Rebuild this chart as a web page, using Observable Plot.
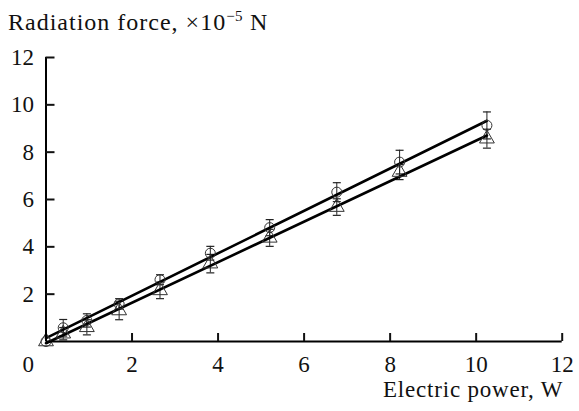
<!DOCTYPE html>
<html><head><meta charset="utf-8">
<script src="https://cdn.jsdelivr.net/npm/d3@7"></script>
<script src="https://cdn.jsdelivr.net/npm/@observablehq/plot@0.6"></script>
<style>
body{margin:0;background:#fff;font-family:'Liberation Serif','Tinos','Times','Nimbus Roman','DejaVu Serif','Noto Serif',serif;color:#111;}
#title{font-size:24px;letter-spacing:1px;height:36px;box-sizing:border-box;padding-top:9px;padding-left:8px;line-height:26px;white-space:nowrap;}
#title sup{font-size:15px;line-height:0;vertical-align:9px;letter-spacing:0.5px;}
svg{display:block;}
</style></head><body>
<div id="title">Radiation force, ×10<sup>−5</sup> N</div>
<div id="chart"></div>
<script>
// Data
const power = [0, 0.4, 0.95, 1.7, 2.65, 3.82, 5.2, 6.76, 8.22, 10.25];
const forceCircle = [0, 0.58, 0.89, 1.59, 2.61, 3.73, 4.81, 6.31, 7.58, 9.13];
const errCircle = [0, 0.35, 0.28, 0.22, 0.21, 0.29, 0.34, 0.4, 0.5, 0.57];
const forceTriangle = [0, 0.33, 0.6, 1.31, 2.16, 3.29, 4.38, 5.68, 7.16, 8.57];
const errTriangle = [0, 0.26, 0.32, 0.39, 0.35, 0.39, 0.36, 0.35, 0.32, 0.4];
const xTicks = [0, 2, 4, 6, 8, 10, 12];
const yTicks = [2, 4, 6, 8, 10, 12];
const xLabel = "Electric power, W";

const circles = power.map((p, i) => ({power: p, force: forceCircle[i], err: errCircle[i]}));
const triangles = power.map((p, i) => ({power: p, force: forceTriangle[i], err: errTriangle[i]}));

const capSymbol = {
  draw(context, size) {
    const w = Math.sqrt(size / Math.PI);
    context.moveTo(-w, 0);
    context.lineTo(w, 0);
  }
};

const errMarks = (data) => [
  Plot.ruleX(data.filter(d => d.err > 0), {x: "power", y1: d => d.force - d.err, y2: d => d.force + d.err, stroke: "#222", strokeWidth: 1}),
  Plot.dot(data.filter(d => d.err > 0), {x: "power", y: d => d.force + d.err, symbol: capSymbol, r: 4, stroke: "#222", strokeWidth: 1.2, fill: "none"}),
  Plot.dot(data.filter(d => d.err > 0), {x: "power", y: d => d.force - d.err, symbol: capSymbol, r: 4, stroke: "#222", strokeWidth: 1.2, fill: "none"})
];

const serif = "'Liberation Serif','Tinos','Times','Nimbus Roman','DejaVu Serif','Noto Serif',serif";

const chart = Plot.plot({
  width: 579,
  height: 375,
  marginTop: 21,
  marginBottom: 70,
  marginLeft: 45.5,
  marginRight: 17.3,
  style: {fontFamily: serif, fontSize: "23px", color: "#111", background: "#fff"},
  x: {domain: [0, 12]},
  y: {domain: [0, 12]},
  marks: [
    ...errMarks(circles),
    ...errMarks(triangles),
    Plot.linearRegressionY(circles, {x: "power", y: "force", ci: 0, stroke: "#000", strokeWidth: 2.6}),
    Plot.linearRegressionY(triangles, {x: "power", y: "force", ci: 0, stroke: "#000", strokeWidth: 2.6}),
    Plot.dot(circles, {x: "power", y: "force", symbol: "circle", r: 5, stroke: "#333", strokeWidth: 1, fill: "none"}),
    Plot.dot(triangles, {x: "power", y: "force", symbol: "triangle", r: 5.5, stroke: "#333", strokeWidth: 1, fill: "none"}),
    Plot.ruleY([0], {stroke: "#000", strokeWidth: 2}),
    Plot.ruleX([0], {stroke: "#000", strokeWidth: 2}),
    Plot.axisX(xTicks.slice(1), {tickSize: -8, tickPadding: 22, strokeWidth: 2, label: null}),
    Plot.axisX([0], {tickSize: 0, tickPadding: 14, textAnchor: "end", dx: -12, label: null}),
    Plot.axisY(yTicks, {tickSize: -9, tickPadding: 21, strokeWidth: 2, label: null}),
    Plot.text([xLabel], {frameAnchor: "bottom-right", text: d => d, textAnchor: "end", lineAnchor: "bottom", dy: 55, dx: 1, fontSize: 23})
  ]
});
d3.select(chart).selectAll("text").filter(function () { return this.textContent === xLabel; }).style("letter-spacing", "0.8px");
document.getElementById("chart").append(chart);
</script>
</body></html>
